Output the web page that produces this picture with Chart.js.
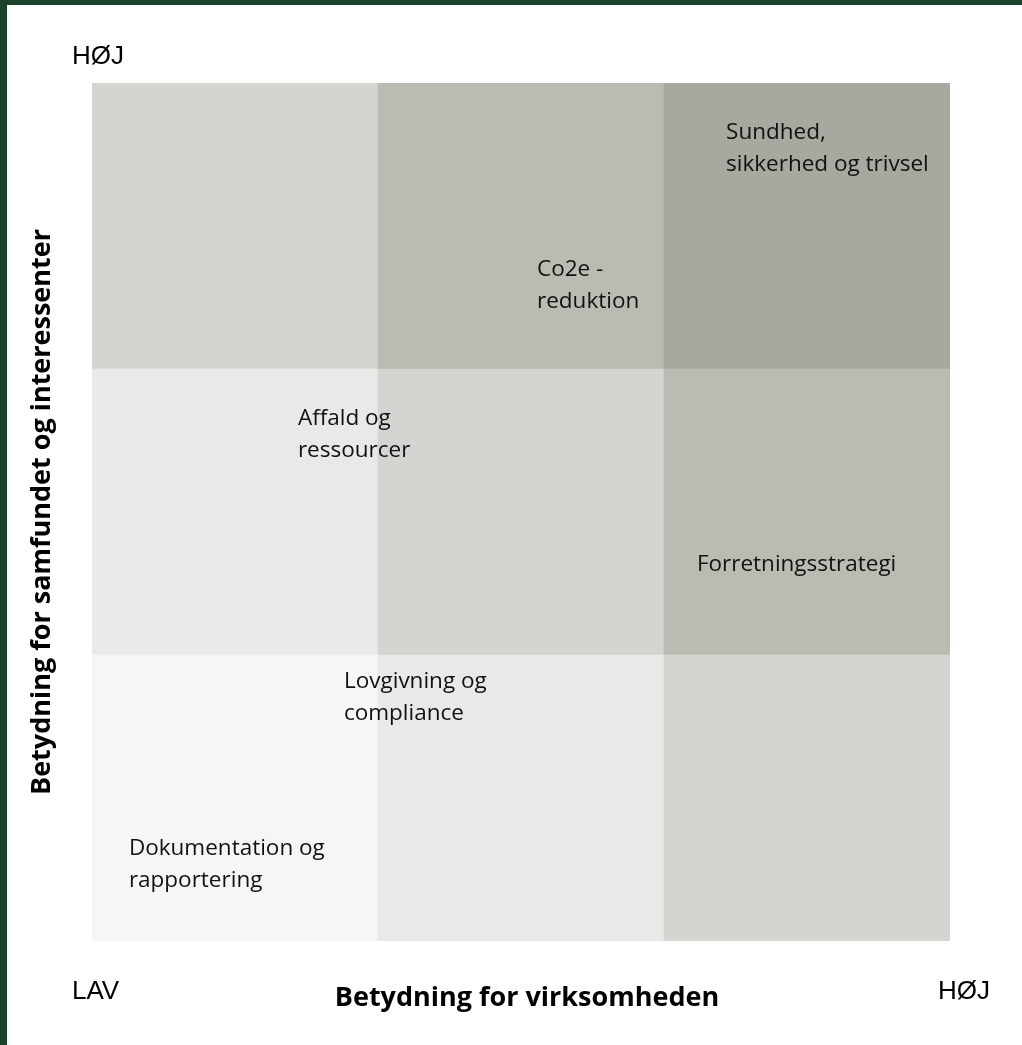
<!DOCTYPE html>
<html>
<head>
<meta charset="utf-8">
<script src="https://cdn.jsdelivr.net/npm/chart.js@4.4.1/dist/chart.umd.min.js"></script>
<style>
    html, body { margin: 0; padding: 0; background: #fff; overflow: hidden; }
    #frame {
        width: 1015px; height: 1040px;
        border-left: 7px solid #1b4329;
        border-top: 5px solid #1b4329;
        background: #fff;
    }
    #wrap { position: relative; width: 1015px; height: 1040px; }
</style>
</head>
<body>
<div id="frame"><div id="wrap"><canvas id="matrix"></canvas></div></div>
<script>
// ----------------- Data -----------------
const columns = ['LAV', 'MIDDEL', 'HØJ'];          // betydning for virksomheden
const bottomRow = [0, 1, 2];                        // shade level per cell
const middleRow = [1, 2, 3];
const topRow = [2, 3, 4];
const shades = ['#f6f6f6', '#e9e9e7', '#d4d5d0', '#b9bcb2', '#a6a99f'];

const itemNames = [
    ['Sundhed,', 'sikkerhed og trivsel'],
    ['Co2e -', 'reduktion'],
    ['Affald og', 'ressourcer'],
    ['Forretningsstrategi'],
    ['Lovgivning og', 'compliance'],
    ['Dokumentation og', 'rapportering']
];
const itemX = [2.217, 1.556, 0.72, 2.115, 0.881, 0.129];
const itemY = [2.804, 2.325, 1.804, 1.294, 0.885, 0.301];

function rowDataset(levels) {
    return {
        data: levels.map(() => 1),
        backgroundColor: levels.map(l => shades[l]),
        borderWidth: 0,
        barPercentage: 1,
        categoryPercentage: 1
    };
}

// ----------------- Text plugin -----------------
const textPlugin = {
    id: 'matrixText',
    afterDatasetsDraw(chart) {
        const { ctx, chartArea, scales: { x, y } } = chart;
        ctx.save();
        ctx.fillStyle = '#111';
        ctx.textBaseline = 'alphabetic';
        ctx.textAlign = 'left';
        ctx.font = '22.5px "Open Sans"';
        itemNames.forEach((lines, i) => {
            const px = x.getPixelForValue(itemX[i] - 0.5);
            const py = y.getPixelForValue(itemY[i]);
            lines.forEach((line, j) => ctx.fillText(line, px, py + j * 32));
        });

        // corner markers
        ctx.font = '26px "Liberation Sans"';
        ctx.fillStyle = '#000';
        ctx.fillText('HØJ', chartArea.left - 20, chartArea.top - 19);
        ctx.fillText('LAV', chartArea.left - 20, chartArea.bottom + 58);
        ctx.textAlign = 'right';
        ctx.fillText('HØJ', chartArea.right + 40, chartArea.bottom + 58);

        // axis titles
        ctx.font = 'bold 27px "Open Sans"';
        ctx.textAlign = 'center';
        ctx.fillText('Betydning for virksomheden', (chartArea.left + chartArea.right) / 2 + 6, chartArea.bottom + 65);
        ctx.translate(chartArea.left - 50, (chartArea.top + chartArea.bottom) / 2);
        ctx.rotate(-Math.PI / 2);
        ctx.textBaseline = 'middle';
        ctx.fillText('Betydning for samfundet og interessenter', 0, 0);
        ctx.restore();
    }
};

// ----------------- Chart -----------------
new Chart(document.getElementById('matrix'), {
    type: 'bar',
    data: {
        labels: columns,
        datasets: [rowDataset(bottomRow), rowDataset(middleRow), rowDataset(topRow)]
    },
    options: {
        responsive: true,
        maintainAspectRatio: false,
        animation: false,
        layout: { padding: { left: 85, right: 72, top: 78, bottom: 104 } },
        plugins: { legend: { display: false }, tooltip: { enabled: false } },
        scales: {
            x: { display: false, stacked: true },
            y: { display: false, stacked: true, min: 0, max: 3 }
        }
    },
    plugins: [textPlugin]
});
</script>
</body>
</html>
